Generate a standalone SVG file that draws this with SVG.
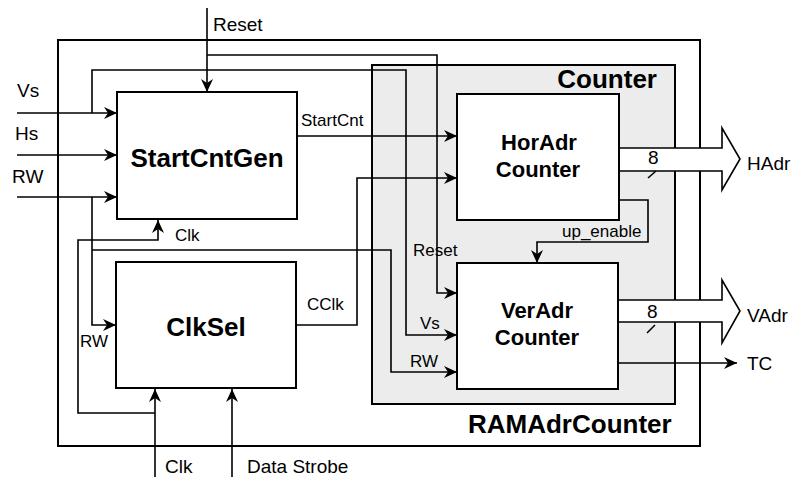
<svg xmlns="http://www.w3.org/2000/svg" width="795" height="477" viewBox="0 0 795 477">
<style>
.box{fill:#fff;stroke:#000;stroke-width:2}
.frame{fill:none;stroke:#000;stroke-width:2}
.cnt{fill:#ececec;stroke:#000;stroke-width:2}
.wire{fill:none;stroke:#000;stroke-width:1.6}
.bus{fill:#fff;stroke:#000;stroke-width:1.6}
text{font-family:"Liberation Sans",Arial,sans-serif;fill:#000}
.big{font-size:19px}
.sm{font-size:17px}
.title{font-size:26px;font-weight:bold}
.blk{font-size:22px;font-weight:bold}
</style>
<defs>
<marker id="arr" markerUnits="userSpaceOnUse" markerWidth="14" markerHeight="12" refX="13" refY="6" orient="auto">
<path d="M0,0 L13,6 L0,12 L4,6 z" fill="#000"/>
</marker>
</defs>
<rect width="795" height="477" fill="#fff"/>
<g id="ramadrcounter">
<rect class="frame" x="58" y="40" width="642" height="406"/>
<text class="title" x="468" y="433">RAMAdrCounter</text>
</g>
<g id="counter">
<rect class="cnt" x="372" y="65" width="303" height="339"/>
<text class="title" x="657" y="88" text-anchor="end">Counter</text>
</g>
<g id="connectors">
<path class="wire" d="M17,113 H117" marker-end="url(#arr)"/>
<path class="wire" d="M17,155 H117" marker-end="url(#arr)"/>
<path class="wire" d="M17,197 H117" marker-end="url(#arr)"/>
<path class="wire" d="M207,8 V92" marker-end="url(#arr)"/>
<path class="wire" d="M207,55 H437 V293 H457" marker-end="url(#arr)"/>
<path class="wire" d="M92,113 V70 H406 V335 H457" marker-end="url(#arr)"/>
<path class="wire" d="M92,197 V325 H116" marker-end="url(#arr)"/>
<path class="wire" d="M92,250 H391 V372 H457" marker-end="url(#arr)"/>
<path class="wire" d="M297,136 H457" marker-end="url(#arr)"/>
<path class="wire" d="M296,325 H357 V178 H457" marker-end="url(#arr)"/>
<path class="wire" d="M155,477 V389" marker-end="url(#arr)"/>
<path class="wire" d="M155,413 H78 V240 H158 V220" marker-end="url(#arr)"/>
<path class="wire" d="M232,477 V389" marker-end="url(#arr)"/>
<path class="wire" d="M619,200 H648 V242 H537 V263" marker-end="url(#arr)"/>
<path class="wire" d="M618,363 H737" marker-end="url(#arr)"/>
<path class="bus" d="M619,148 H722 V128 L740,159 L722,190 V171 H619"/>
<path class="bus" d="M618,300 H722 V280 L740,311 L722,343 V322 H618"/>
<path class="wire" d="M648,178 L656,171"/>
<path class="wire" d="M647,333 L655,325"/>
</g>
<g id="startcntgen">
<rect class="box" x="117" y="92" width="180" height="127"/>
<text class="title" x="207" y="167" text-anchor="middle">StartCntGen</text>
</g>
<g id="clksel">
<rect class="box" x="116" y="262" width="180" height="126"/>
<text class="title" x="206" y="336" text-anchor="middle">ClkSel</text>
</g>
<g id="horadr">
<rect class="box" x="457" y="94" width="162" height="126"/>
<text class="blk" x="539" y="150" text-anchor="middle">HorAdr</text>
<text class="blk" x="538" y="177" text-anchor="middle">Counter</text>
</g>
<g id="veradr">
<rect class="box" x="457" y="263" width="161" height="126"/>
<text class="blk" x="537" y="318" text-anchor="middle">VerAdr</text>
<text class="blk" x="537" y="345" text-anchor="middle">Counter</text>
</g>
<g id="labels">
<text class="big" x="213" y="31">Reset</text>
<text class="big" x="17" y="97">Vs</text>
<text class="big" x="15" y="140">Hs</text>
<text class="big" x="12" y="183">RW</text>
<text class="sm" x="301" y="126">StartCnt</text>
<text class="sm" x="175" y="241">Clk</text>
<text class="sm" x="307" y="310">CClk</text>
<text class="sm" x="80" y="347">RW</text>
<text class="sm" x="562" y="237">up_enable</text>
<text class="sm" x="413" y="256">Reset</text>
<text class="sm" x="420" y="329">Vs</text>
<text class="sm" x="410" y="367">RW</text>
<text class="big" x="648" y="164">8</text>
<text class="big" x="647" y="318">8</text>
<text class="big" x="747" y="170">HAdr</text>
<text class="big" x="747" y="322">VAdr</text>
<text class="big" x="747" y="370">TC</text>
<text class="big" x="165" y="473">Clk</text>
<text class="big" x="247" y="473">Data Strobe</text>
</g>
</svg>
